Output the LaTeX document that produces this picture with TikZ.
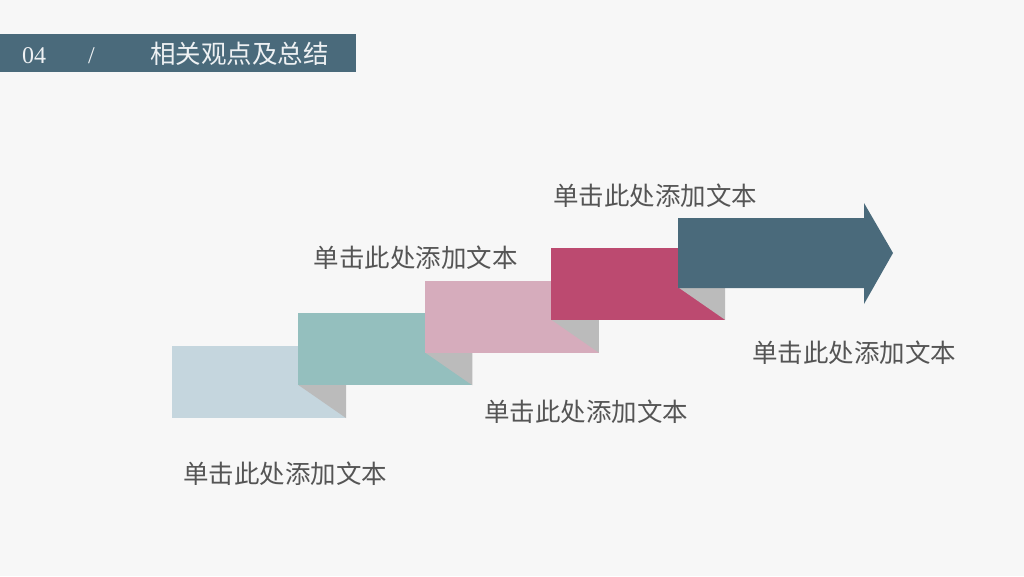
\documentclass[tikz,border=0pt]{standalone}
\usepackage{fontspec}
\newfontfamily\cjk{Noto Sans CJK SC}
\newfontfamily\hserif{Liberation Serif}
\definecolor{bg}{HTML}{F7F7F7}
\definecolor{hdr}{HTML}{4A6A7B}
\definecolor{cA}{HTML}{C5D6DE}
\definecolor{cB}{HTML}{94BFBE}
\definecolor{cC}{HTML}{D6ACBC}
\definecolor{cD}{HTML}{BC4A70}
\definecolor{cE}{HTML}{4A6A7B}
\definecolor{fold}{HTML}{BBBBBB}
\definecolor{lbl}{HTML}{555555}
\definecolor{htxt}{HTML}{EEF1F3}
\tikzset{
  lab/.style={font=\cjk\fontsize{25.5}{30}\selectfont, text=lbl, inner sep=0pt, anchor=center},
  htext/.style={text=htxt, inner sep=0pt, anchor=base west},
}
\begin{document}
\begin{tikzpicture}[x=1pt,y=-1pt]
\useasboundingbox (0,0) rectangle (1024,576);
\fill[bg] (0,0) rectangle (1024,576);
% header
\fill[hdr] (0,34) rectangle (356,72);
\node[htext, font=\hserif\fontsize{24}{28}\selectfont] (hnum) at (22,63) {04};
\node[htext, font=\hserif\fontsize{24}{28}\selectfont] (hsl) at (88,63) {/};
\node[htext, font=\cjk\fontsize{25.5}{30}\selectfont] (htitle) at (150,63) {相关观点及总结};
% steps
\foreach \i/\c in {0/cA,1/cB,2/cC,3/cD}{
  \pgfmathsetmacro{\xx}{172+126.4*\i}
  \pgfmathsetmacro{\yy}{346-32.7*\i}
  \fill[\c] (\xx,\yy) rectangle ++(174,72);
  \fill[fold] (\xx+126.4,\yy+39) -- (\xx+174,\yy+39) -- (\xx+174,\yy+72) -- cycle;
}
% arrow
\fill[cE] (678,218) -- (864,218) -- (864,203) -- (893,253) -- (864,304) -- (864,288) -- (678,288) -- cycle;
% labels
\node[lab] (l1) at (285,474) {单击此处添加文本};
\node[lab] (l2) at (415.5,258) {单击此处添加文本};
\node[lab] (l3) at (586,412) {单击此处添加文本};
\node[lab] (l4) at (655,196) {单击此处添加文本};
\node[lab] (l5) at (854,353) {单击此处添加文本};
\end{tikzpicture}
\end{document}
